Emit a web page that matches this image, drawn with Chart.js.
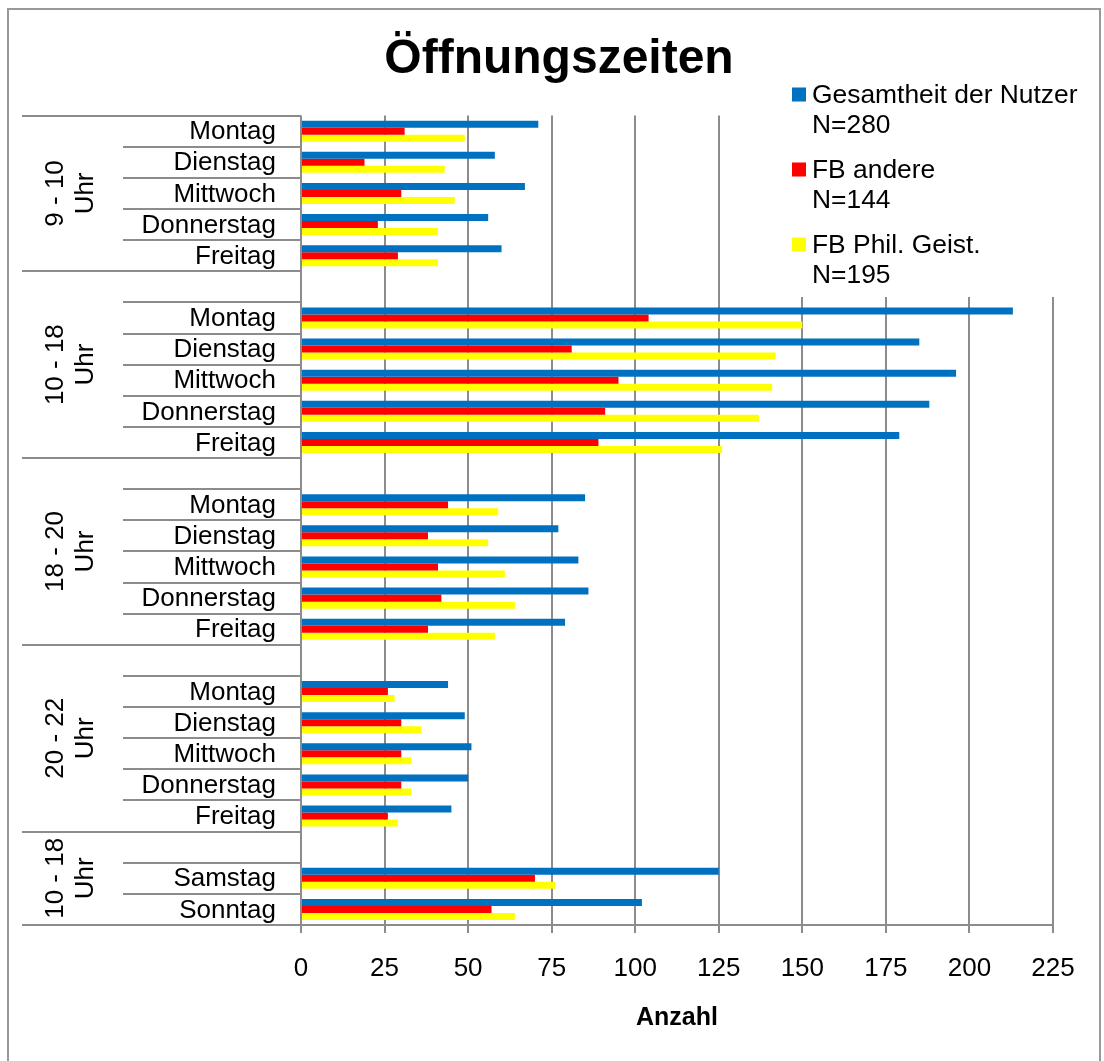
<!DOCTYPE html>
<html>
<head>
<meta charset="utf-8">
<title>Öffnungszeiten</title>
<script src="https://cdn.jsdelivr.net/npm/chart.js@4.4.1/dist/chart.umd.min.js"></script>
<style>
  html, body { margin: 0; padding: 0; background: #fff; }
  canvas { display: block; }
</style>
</head>
<body>
<canvas id="chart" width="1104" height="1061"></canvas>
<script>
// rows top to bottom, '' = empty spacer row at the top of a block
const categories = [
    'Montag', 'Dienstag', 'Mittwoch', 'Donnerstag', 'Freitag',
    '', 'Montag', 'Dienstag', 'Mittwoch', 'Donnerstag', 'Freitag',
    '', 'Montag', 'Dienstag', 'Mittwoch', 'Donnerstag', 'Freitag',
    '', 'Montag', 'Dienstag', 'Mittwoch', 'Donnerstag', 'Freitag',
    '', 'Samstag', 'Sonntag'
];
const groupLabels = [['9 - 10', 'Uhr'], ['10 - 18', 'Uhr'], ['18 - 20', 'Uhr'], ['20 - 22', 'Uhr'], ['10 - 18', 'Uhr']];
const groupSizes = [5, 6, 6, 6, 3];

const gesamt = [71, 58, 67, 56, 60, null, 213, 185, 196, 188, 179, null, 85, 77, 83, 86, 79, null, 44, 49, 51, 50, 45, null, 125, 102];
const andere = [31, 19, 30, 23, 29, null, 104, 81, 95, 91, 89, null, 44, 38, 41, 42, 38, null, 26, 30, 30, 30, 26, null, 70, 57];
const phil   = [49, 43, 46, 41, 41, null, 150, 142, 141, 137, 126, null, 59, 56, 61, 64, 58, null, 28, 36, 33, 33, 29, null, 76, 64];

const seriesNames = [['Gesamtheit der Nutzer', 'N=280'], ['FB andere', 'N=144'], ['FB Phil. Geist.', 'N=195']];
const seriesColors = ['#0070C0', '#FF0000', '#FFFF00'];
const xMin = 0, xMax = 225, xStep = 25;

const FONT = "'Liberation Sans', Arial, sans-serif";
const LINE = '#8c8c8c';

Chart.defaults.font.family = FONT;
Chart.defaults.color = '#000';

// white background + grey frame
const frame = {
    id: 'frame',
    beforeDraw(chart) {
        const ctx = chart.ctx;
        ctx.save();
        ctx.fillStyle = '#fff';
        ctx.fillRect(0, 0, chart.width, chart.height);
        ctx.strokeStyle = '#999';
        ctx.lineWidth = 2;
        ctx.strokeRect(8, 9, 1092, 1100);
        ctx.restore();
    }
};

// two level category axis on the left
const sideAxis = {
    id: 'sideAxis',
    afterDraw(chart) {
        const ctx = chart.ctx;
        const y = chart.scales.y;
        const left = chart.chartArea.left;
        const bounds = [0];
        groupSizes.forEach(n => bounds.push(bounds[bounds.length - 1] + n));

        ctx.save();
        ctx.strokeStyle = LINE;
        ctx.lineWidth = 2;
        for (let i = 0; i <= categories.length; i++) {
            const py = Math.round(y.getPixelForValue(i - 0.5));
            const x0 = bounds.includes(i) ? 22 : 123;
            ctx.beginPath();
            ctx.moveTo(x0, py);
            ctx.lineTo(left, py);
            ctx.stroke();
        }

        ctx.fillStyle = '#000';
        ctx.font = '26px ' + FONT;
        ctx.textAlign = 'right';
        ctx.textBaseline = 'middle';
        categories.forEach((c, i) => {
            if (c) ctx.fillText(c, 276, y.getPixelForValue(i) + 1);
        });

        ctx.textAlign = 'center';
        groupLabels.forEach((lines, g) => {
            const top = y.getPixelForValue(bounds[g] - 0.5);
            const bottom = y.getPixelForValue(bounds[g + 1] - 0.5);
            ctx.save();
            ctx.translate(70, (top + bottom) / 2);
            ctx.rotate(-Math.PI / 2);
            lines.forEach((t, k) => ctx.fillText(t, 0, (k - (lines.length - 1) / 2) * 30 + 1));
            ctx.restore();
        });
        ctx.restore();
    }
};

// legend box sitting on top of the plot area
const boxLegend = {
    id: 'boxLegend',
    afterDraw(chart) {
        const ctx = chart.ctx;
        ctx.save();
        ctx.fillStyle = '#fff';
        ctx.fillRect(785, 78, 310, 219);
        ctx.font = '26.4px ' + FONT;
        ctx.textAlign = 'left';
        ctx.textBaseline = 'middle';
        chart.data.datasets.forEach((ds, i) => {
            const yy = 94.5 + i * 75;
            ctx.fillStyle = ds.backgroundColor;
            ctx.fillRect(792, yy - 7, 14, 14);
            ctx.fillStyle = '#000';
            seriesNames[i].forEach((t, k) => ctx.fillText(t, 812, yy + 1 + k * 30));
        });
        ctx.restore();
    }
};

new Chart(document.getElementById('chart'), {
    type: 'bar',
    data: {
        labels: categories,
        datasets: [
            { label: seriesNames[0].join(' '), data: gesamt, backgroundColor: seriesColors[0] },
            { label: seriesNames[1].join(' '), data: andere, backgroundColor: seriesColors[1] },
            { label: seriesNames[2].join(' '), data: phil, backgroundColor: seriesColors[2] }
        ]
    },
    options: {
        indexAxis: 'y',
        responsive: false,
        animation: false,
        datasets: { bar: { barPercentage: 1, categoryPercentage: 0.675, borderWidth: 0 } },
        layout: { padding: { left: 14, right: 0, top: 0, bottom: 0 } },
        plugins: {
            legend: { display: false },
            tooltip: { enabled: false },
            title: {
                display: true,
                text: 'Öffnungszeiten',
                color: '#000',
                font: { size: 48, weight: 'bold' },
                padding: { top: 31, bottom: 27 }
            }
        },
        scales: {
            x: {
                min: xMin,
                max: xMax,
                ticks: { stepSize: xStep, font: { size: 26 }, color: '#000', padding: 20 },
                grid: { color: LINE, lineWidth: 2, tickLength: 8 },
                border: { display: true, color: LINE, width: 2 },
                title: {
                    display: true,
                    text: 'Anzahl',
                    color: '#000',
                    font: { size: 25, weight: 'bold' },
                    padding: { top: 0, bottom: 28 }
                },
                afterFit(s) { s.height = 136; }
            },
            y: {
                ticks: { display: false },
                grid: { display: false },
                border: { display: false },
                afterFit(s) { s.width = 287; }
            },
            yRight: {
                type: 'category',
                position: 'right',
                ticks: { display: false },
                grid: { display: false },
                border: { display: false },
                afterFit(s) { s.width = 51; }
            }
        }
    },
    plugins: [frame, sideAxis, boxLegend]
});
</script>
</body>
</html>
